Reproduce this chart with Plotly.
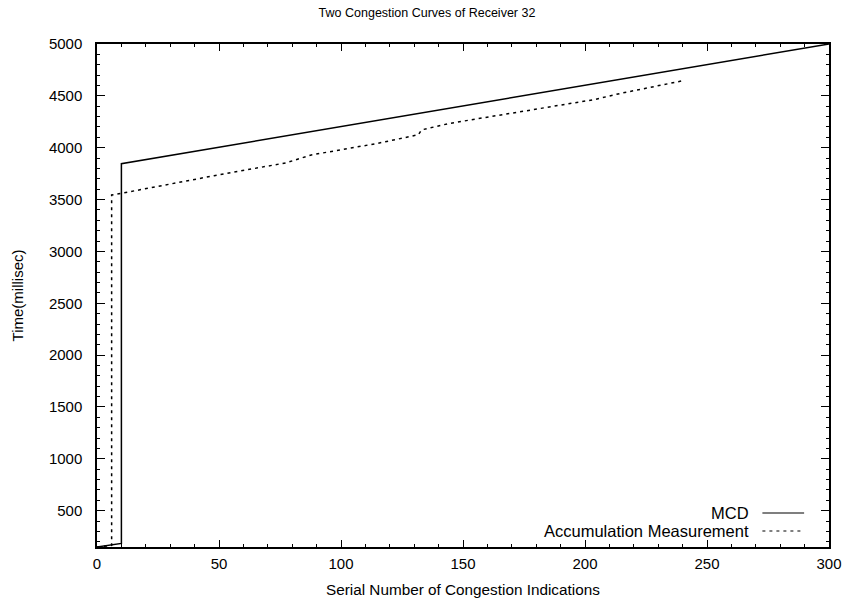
import plotly.graph_objects as go

# Data
mcd_x = [0, 10, 10, 300]
mcd_y = [150, 185, 3846, 5000]

acc_x = [0, 6, 6, 11, 48, 77.6, 87.8, 115, 131.7, 133, 144.6, 183.7, 204, 214.8, 241]
acc_y = [150, 165, 3544, 3565, 3730, 3855, 3930, 4042, 4125, 4172, 4235, 4390, 4465, 4525, 4650]

series_names = ["MCD", "Accumulation Measurement"]
title_text = "Two Congestion Curves of Receiver 32"
x_title = "Serial Number of Congestion Indications"
y_title = "Time(millisec)"

FONT = "Liberation Sans, Arial, sans-serif"
FS = 15

fig = go.Figure()
fig.add_trace(go.Scatter(x=mcd_x, y=mcd_y, mode="lines", name=series_names[0],
                         line=dict(color="#000000", width=1.5), showlegend=False))
fig.add_trace(go.Scatter(x=acc_x, y=acc_y, mode="lines", name=series_names[1],
                         line=dict(color="#000000", width=1.5, dash="3px,4px"), showlegend=False))

axis_common = dict(
    showgrid=False, zeroline=False, showline=True, linecolor="#000000", linewidth=1.5,
    mirror="allticks", ticks="inside", tickcolor="#000000", tickwidth=1,
    tickfont=dict(family=FONT, size=FS, color="#000000"),
)
fig.update_xaxes(range=[0, 300], tick0=0, dtick=50, ticklen=7, ticklabelstandoff=2,
                 minor=dict(dtick=10, ticks="inside", ticklen=3, tickcolor="#000000"),
                 **axis_common)
fig.update_yaxes(range=[150, 5000], tick0=0, dtick=500, ticklen=8, ticklabelstandoff=10,
                 minor=dict(dtick=100, ticks="inside", ticklen=3, tickcolor="#000000"),
                 **axis_common)

# Legend drawn gnuplot-style: text right-aligned, sample line on the right
leg_rows = [(0.0676, "solid"), (0.0318, "3px,4px")]
for (ly, dash), name in zip(leg_rows, series_names):
    fig.add_annotation(x=0.893, y=ly, xref="paper", yref="paper", text=name,
                       showarrow=False, xanchor="right", yanchor="middle",
                       font=dict(family=FONT, size=16.5, color="#000000"))
    fig.add_shape(type="line", xref="paper", yref="paper", x0=0.909, x1=0.966, y0=ly, y1=ly,
                  line=dict(color="#000000", width=1.2, dash=dash))

fig.add_annotation(x=0.5, y=-0.085, xref="paper", yref="paper", text=x_title,
                   showarrow=False, xanchor="center", yanchor="middle",
                   font=dict(family=FONT, size=15.3, color="#000000"))
fig.add_annotation(x=-0.108, y=0.5, xref="paper", yref="paper", text=y_title, textangle=-90,
                   showarrow=False, xanchor="center", yanchor="middle",
                   font=dict(family=FONT, size=FS, color="#000000"))

fig.update_layout(
    width=854, height=599,
    margin=dict(l=97, r=17, t=44, b=52),
    paper_bgcolor="#ffffff", plot_bgcolor="#ffffff",
    title=dict(text=title_text, x=0.5, xref="container", xanchor="center",
               y=1 - 13 / 599, yref="container", yanchor="middle",
               font=dict(family=FONT, size=12.5, color="#000000")),
    showlegend=False,
)

fig.write_html("out.html", config={"displayModeBar": False},
               post_script="document.body.style.margin='0';document.body.style.overflow='hidden';")
